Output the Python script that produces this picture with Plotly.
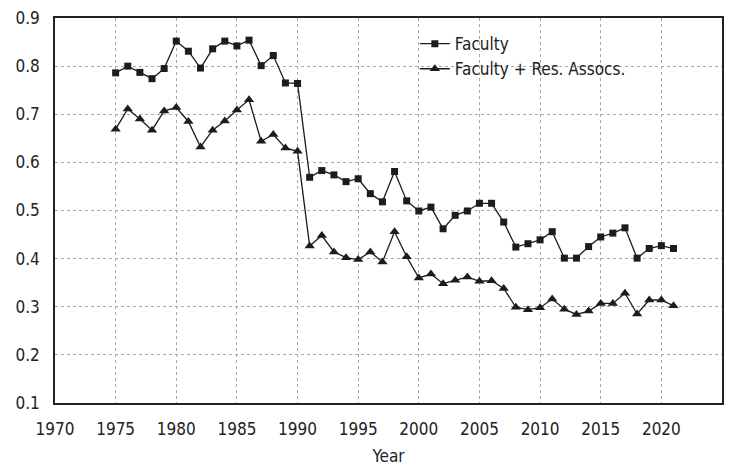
import plotly.graph_objects as go

years = list(range(1975, 2022))

faculty = [0.786, 0.800, 0.787, 0.774, 0.795, 0.852, 0.831, 0.796, 0.836, 0.852,
           0.842, 0.854, 0.801, 0.822, 0.765, 0.764, 0.569, 0.583, 0.574, 0.560,
           0.566, 0.535, 0.518, 0.581, 0.520, 0.499, 0.507, 0.462, 0.490, 0.499,
           0.515, 0.515, 0.476, 0.424, 0.431, 0.439, 0.456, 0.401, 0.401, 0.425,
           0.445, 0.453, 0.464, 0.401, 0.421, 0.427, 0.421]

faculty_ra = [0.669, 0.711, 0.690, 0.667, 0.707, 0.714, 0.685, 0.632, 0.667, 0.686,
              0.709, 0.730, 0.644, 0.658, 0.630, 0.623, 0.426, 0.448, 0.414, 0.402,
              0.398, 0.414, 0.393, 0.456, 0.404, 0.360, 0.368, 0.348, 0.355, 0.362,
              0.353, 0.354, 0.338, 0.299, 0.294, 0.298, 0.316, 0.295, 0.284, 0.291,
              0.307, 0.307, 0.328, 0.285, 0.314, 0.314, 0.302]

x_ticks = [1970, 1975, 1980, 1985, 1990, 1995, 2000, 2005, 2010, 2015, 2020]
y_ticks = [0.1, 0.2, 0.3, 0.4, 0.5, 0.6, 0.7, 0.8, 0.9]

FONT = "Liberation Sans Narrow, Arial Narrow, DejaVu Sans Condensed, Liberation Sans, Arial, sans-serif"
INK = "#1c1c1c"

fig = go.Figure()
fig.add_trace(go.Scatter(
    x=years, y=faculty, name="Faculty", mode="lines+markers",
    line=dict(color=INK, width=1.3),
    marker=dict(symbol="square", size=7, color=INK),
))
fig.add_trace(go.Scatter(
    x=years, y=faculty_ra, name="Faculty + Res. Assocs.", mode="lines+markers",
    line=dict(color=INK, width=1.3),
    marker=dict(symbol="triangle-up", size=9, color=INK),
))

fig.update_layout(
    width=730, height=468,
    margin=dict(l=55, r=8, t=18, b=65, autoexpand=False),
    paper_bgcolor="white", plot_bgcolor="white",
    font=dict(family=FONT, size=17, color="#222"),
    showlegend=True,
    legend=dict(x=0.5395, y=0.979, xanchor="left", yanchor="top",
                bgcolor="rgba(0,0,0,0)", font=dict(size=17, family=FONT),
                tracegroupgap=0, itemwidth=30),
    xaxis=dict(
        range=[1970, 2025], tickvals=x_ticks, ticktext=[str(v) for v in x_ticks],
        showgrid=True, gridcolor="#a8a8a8", griddash="dot", gridwidth=1,
        showline=True, linecolor="#222", linewidth=1.5, mirror=True,
        ticks="outside", ticklen=10, tickcolor="rgba(0,0,0,0)",
        zeroline=False, automargin=False,
        title=dict(text="Year", standoff=12, font=dict(size=17, family=FONT)),
    ),
    yaxis=dict(
        range=[0.1, 0.9], tickvals=y_ticks, ticktext=[f"{v:.1f}" for v in y_ticks],
        showgrid=True, gridcolor="#a8a8a8", griddash="dot", gridwidth=1,
        showline=True, linecolor="#222", linewidth=1.5, mirror=True,
        ticks="outside", ticklen=10, tickcolor="rgba(0,0,0,0)",
        zeroline=False, automargin=False,
    ),
)

fig.write_html("out.html", config={"displayModeBar": False},
               post_script="document.body.style.margin='0';")
